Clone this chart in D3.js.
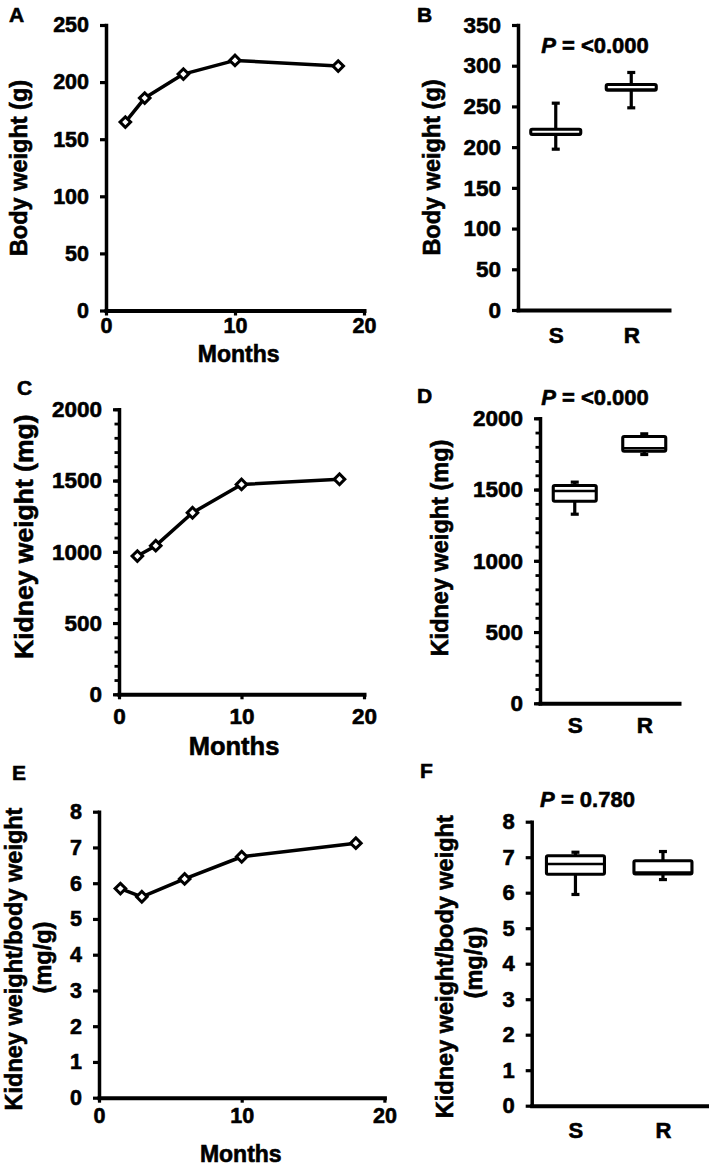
<!DOCTYPE html>
<html><head><meta charset="utf-8">
<script src="https://cdn.jsdelivr.net/npm/d3@7"></script>
<style>
body{margin:0;background:#fff}
svg{display:block}
text{font-family:"Liberation Sans",Arial,sans-serif;font-weight:bold;fill:#000;stroke:#000;stroke-width:0.6px}
</style>
</head><body>
<svg id="chart" width="709" height="1171"></svg>
<script>
// ---------------- data ----------------
const months = [1.5, 3, 6, 10, 18];
const monthTicks = [0, 10, 20];
const bodyWeight = [165, 186, 207, 219, 214];
const kidneyWeight = [970, 1043, 1274, 1473, 1509];
const kidneyBodyRatio = [5.85, 5.62, 6.12, 6.74, 7.12];

const groups = ["S", "R"];
// box statistics per group: [min, q1, median, q3, max]
const bodyWeightBoxS = [197.5, 215.5, 216, 222, 254];
const bodyWeightBoxR = [248.3, 270, 270.5, 277, 291.7];
const kidneyWeightBoxS = [1327, 1418, 1490, 1528, 1552];
const kidneyWeightBoxR = [1746, 1769, 1789, 1872, 1891];
const ratioBoxS = [5.95, 6.52, 6.81, 7.04, 7.14];
const ratioBoxR = [6.37, 6.53, 6.57, 6.90, 7.16];

const bodyTicksA = [0, 50, 100, 150, 200, 250];
const bodyTicksB = [0, 50, 100, 150, 200, 250, 300, 350];
const kidneyTicks = [0, 500, 1000, 1500, 2000];
const ratioTicks = [0, 1, 2, 3, 4, 5, 6, 7, 8];
const pValues = ["<0.000", "<0.000", "0.780"];

const svg = d3.select("#chart");
const fmt = d3.format("d");

function styleAxis(sel, w) {
  sel.select(".domain").attr("stroke", "#000").attr("stroke-width", w).attr("stroke-linecap", "square");
  sel.selectAll(".tick line").attr("stroke", "#000").attr("stroke-width", 3.2);
}

function yTitle(c) {
  c.titleLines.forEach((t, i) => {
    svg.append("text")
      .attr("transform", `translate(${c.titleX[i]},${c.titleY[i]}) rotate(-90)`)
      .attr("text-anchor", "middle")
      .style("font-size", c.titleSize + "px")
      .text(t);
  });
}

function letter(c) {
  svg.append("text").attr("x", c.letterX).attr("y", c.letterY)
    .style("font-size", "21px").text(c.letter);
}

function yAxis(c, y) {
  if (c.minor) {
    const m = svg.append("g").attr("transform", `translate(${c.left},0)`)
      .call(d3.axisLeft(y).tickValues(d3.range(0, c.yMax + 1, c.minor)).tickSize(4.5).tickFormat(""));
    m.select(".domain").remove();
    m.selectAll(".tick line").attr("stroke", "#000").attr("stroke-width", 2.8);
  }
  const ya = svg.append("g").attr("transform", `translate(${c.left},0)`)
    .call(d3.axisLeft(y).tickValues(c.yTicks).tickFormat(fmt).tickSize(6).tickSizeOuter(0).tickPadding(11));
  styleAxis(ya, 3.5);
  ya.selectAll("text").style("font-size", c.tickSize + "px").attr("fill", "#000");
}

function linePanel(c) {
  const x = d3.scaleLinear().domain([0, 20]).range([c.left, c.right]);
  const y = d3.scaleLinear().domain([0, c.yMax]).range([c.bottom, c.top]);
  yAxis(c, y);
  const xa = svg.append("g").attr("transform", `translate(0,${c.bottom})`)
    .call(d3.axisBottom(x).tickValues(monthTicks).tickFormat(fmt).tickSize(5).tickSizeOuter(0));
  styleAxis(xa, 4);
  xa.selectAll("text").style("font-size", c.tickSize + "px").attr("fill", "#000")
    .attr("y", c.xLabelBase - c.bottom).attr("dy", 0);
  const pts = months.map((m, i) => [m, c.values[i]]);
  svg.append("path").datum(pts)
    .attr("d", d3.line().x(d => x(d[0])).y(d => y(d[1])))
    .attr("fill", "none").attr("stroke", "#000").attr("stroke-width", 3.5).attr("stroke-linejoin", "round");
  svg.append("g").selectAll("path").data(pts).join("path")
    .attr("transform", d => `translate(${x(d[0])},${y(d[1])}) rotate(45)`)
    .attr("d", d3.symbol(d3.symbolSquare, 56))
    .attr("fill", "#fff").attr("stroke", "#000").attr("stroke-width", 3);
  svg.append("text").attr("x", c.monthsX).attr("y", c.monthsBase).attr("text-anchor", "middle")
    .style("font-size", c.monthsSize + "px").text("Months");
  yTitle(c);
  letter(c);
}

function boxPanel(c) {
  const x = d3.scalePoint().domain(groups).range([c.left, c.right]).padding(0.5);
  const y = d3.scaleLinear().domain([0, c.yMax]).range([c.bottom, c.top]);
  yAxis(c, y);
  const xa = svg.append("g").attr("transform", `translate(0,${c.bottom})`)
    .call(d3.axisBottom(x).tickSize(0).tickSizeOuter(0));
  styleAxis(xa, 4);
  xa.selectAll("text").style("font-size", c.tickSize + "px").attr("fill", "#000")
    .attr("y", c.xLabelBase - c.bottom).attr("dy", 0);
  const stats = groups.map((g, i) => ({ g, s: c.boxes[i] }));
  const bw = c.boxW, cap = 8;
  const bg = svg.append("g").selectAll("g").data(stats).join("g")
    .attr("transform", d => `translate(${x(d.g)},0)`);
  bg.append("line").attr("x1", 0).attr("x2", 0)
    .attr("y1", d => y(d.s[0])).attr("y2", d => y(d.s[4]))
    .attr("stroke", "#000").attr("stroke-width", 3.2);
  [0, 4].forEach(k => bg.append("line").attr("x1", -cap / 2).attr("x2", cap / 2)
    .attr("y1", d => y(d.s[k])).attr("y2", d => y(d.s[k]))
    .attr("stroke", "#000").attr("stroke-width", 3.2));
  bg.append("rect").attr("x", -bw / 2).attr("width", bw)
    .attr("y", d => y(d.s[3])).attr("height", d => y(d.s[1]) - y(d.s[3]))
    .attr("rx", 1.5)
    .attr("fill", "#fff").attr("stroke", "#000").attr("stroke-width", 3.1);
  bg.append("line").attr("x1", -bw / 2).attr("x2", bw / 2)
    .attr("y1", d => y(d.s[2])).attr("y2", d => y(d.s[2]))
    .attr("stroke", "#000").attr("stroke-width", 2.5);
  const pt = svg.append("text").attr("x", c.pX).attr("y", c.pBase).attr("text-anchor", "middle")
    .style("font-size", "22px");
  pt.append("tspan").attr("font-style", "italic").text("P");
  pt.append("tspan").text(" = " + c.p);
  yTitle(c);
  letter(c);
}

linePanel({
  left: 106, right: 364, top: 25, bottom: 310.5, yMax: 250, yTicks: bodyTicksA, tickSize: 21.5,
  values: bodyWeight, xLabelBase: 333, monthsX: 238.7, monthsBase: 361.7, monthsSize: 23,
  titleLines: ["Body weight (g)"], titleX: [26.7], titleY: [168], titleSize: 23.5,
  letter: "A", letterX: 9, letterY: 21.7
});
boxPanel({
  left: 518, right: 669, top: 25, bottom: 310, yMax: 350, yTicks: bodyTicksB, tickSize: 22.5,
  boxes: [bodyWeightBoxS, bodyWeightBoxR], boxW: 50, xLabelBase: 343,
  p: pValues[0], pX: 595, pBase: 53,
  titleLines: ["Body weight (g)"], titleX: [440], titleY: [167.5], titleSize: 23.5,
  letter: "B", letterX: 417, letterY: 21.7
});
linePanel({
  left: 119, right: 364, top: 409.3, bottom: 694.3, yMax: 2000, yTicks: kidneyTicks, minor: 100, tickSize: 22.5,
  values: kidneyWeight, xLabelBase: 724, monthsX: 234, monthsBase: 755, monthsSize: 25.5,
  titleLines: ["Kidney weight (mg)"], titleX: [33.3], titleY: [536.7], titleSize: 26.5,
  letter: "C", letterX: 17, letterY: 395
});
boxPanel({
  left: 540, right: 679, top: 418.3, bottom: 703.3, yMax: 2000, yTicks: kidneyTicks, minor: 100, tickSize: 22.5,
  boxes: [kidneyWeightBoxS, kidneyWeightBoxR], boxW: 43, xLabelBase: 733,
  p: pValues[1], pX: 595, pBase: 405,
  titleLines: ["Kidney weight (mg)"], titleX: [448.3], titleY: [548], titleSize: 23.5,
  letter: "D", letterX: 417, letterY: 403
});
linePanel({
  left: 99, right: 384.4, top: 811.7, bottom: 1097.7, yMax: 8, yTicks: ratioTicks, tickSize: 21.5,
  values: kidneyBodyRatio, xLabelBase: 1123, monthsX: 240.8, monthsBase: 1161.7, monthsSize: 23,
  titleLines: ["Kidney weight/body weight", "(mg/g)"], titleX: [21.7, 51], titleY: [959, 957.5], titleSize: 23.5,
  letter: "E", letterX: 12, letterY: 780
});
boxPanel({
  left: 531.7, right: 706.7, top: 821.7, bottom: 1105.7, yMax: 8, yTicks: ratioTicks, tickSize: 22,
  boxes: [ratioBoxS, ratioBoxR], boxW: 58, xLabelBase: 1138,
  p: pValues[2], pX: 587.5, pBase: 807,
  titleLines: ["Kidney weight/body weight", "(mg/g)"], titleX: [453.3, 482], titleY: [966.7, 962.5], titleSize: 23.5,
  letter: "F", letterX: 420, letterY: 778
});
</script>
</body></html>
